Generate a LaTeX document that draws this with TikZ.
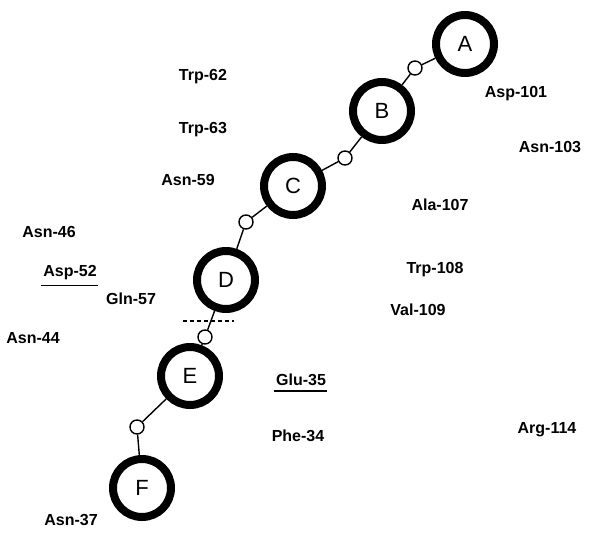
\documentclass[tikz,border=0pt]{standalone}
\usepackage{fontspec}
\setmainfont{Liberation Sans}
\begin{document}
\begin{tikzpicture}[x=1pt,y=-1pt,
  big/.style={circle,draw,line width=8pt,minimum size=58pt,inner sep=0pt,font=\fontsize{22}{22}\selectfont},
  small/.style={circle,draw,line width=1.4pt,minimum size=14pt,inner sep=0pt},
  link/.style={line width=1.4pt},
  lab/.style={font=\fontsize{16}{16}\selectfont\bfseries,inner sep=0pt},
  uline/.style={line width=1.3pt}]
\useasboundingbox (0,0) rectangle (591,536);
\node[big] (A) at (465,44) {A};
\node[big] (B) at (382,111) {B};
\node[big] (C) at (293,186) {C};
\node[big] (D) at (226,280) {D};
\node[big] (E) at (190,376) {E};
\node[big] (F) at (142,488) {F};
\node[small] (s1) at (415,68) {};
\node[small] (s2) at (345,158) {};
\node[small] (s3) at (246,222) {};
\node[small] (s4) at (205,337) {};
\node[small] (s5) at (137,427) {};
\draw[link] (A) -- (s1) -- (B) -- (s2) -- (C) -- (s3) -- (D) -- (s4) -- (E) -- (s5) -- (F);
\coordinate (d1) at (183,321);
\coordinate (d2) at (234,321);
\draw[line width=1.3pt,dash pattern=on 4pt off 3pt] (d1) -- (d2);
\node[lab] (t62) at (203,77) {Trp-62};
\node[lab] (t63) at (203,130) {Trp-63};
\node[lab] (n59) at (188,180) {Asn-59};
\node[lab] (n46) at (49,232) {Asn-46};
\node[lab] (d52) at (70,273) {Asp-52};
\draw[uline] ([yshift=-5pt,xshift=-2pt]d52.south west) -- ([yshift=-5pt,xshift=1pt]d52.south east);
\node[lab] (q57) at (131,299) {Gln-57};
\node[lab] (n44) at (33,338) {Asn-44};
\node[lab] (d101) at (516,94) {Asp-101};
\node[lab] (n103) at (550,147) {Asn-103};
\node[lab] (a107) at (440,205) {Ala-107};
\node[lab] (w108) at (435,270) {Trp-108};
\node[lab] (v109) at (418,310) {Val-109};
\node[lab] (e35) at (301,380) {Glu-35};
\draw[uline] ([yshift=-5pt,xshift=-2pt]e35.south west) -- ([yshift=-5pt,xshift=1pt]e35.south east);
\node[lab] (f34) at (298,436) {Phe-34};
\node[lab] (r114) at (547,430) {Arg-114};
\node[lab] (n37) at (71,520) {Asn-37};
\end{tikzpicture}
\end{document}
